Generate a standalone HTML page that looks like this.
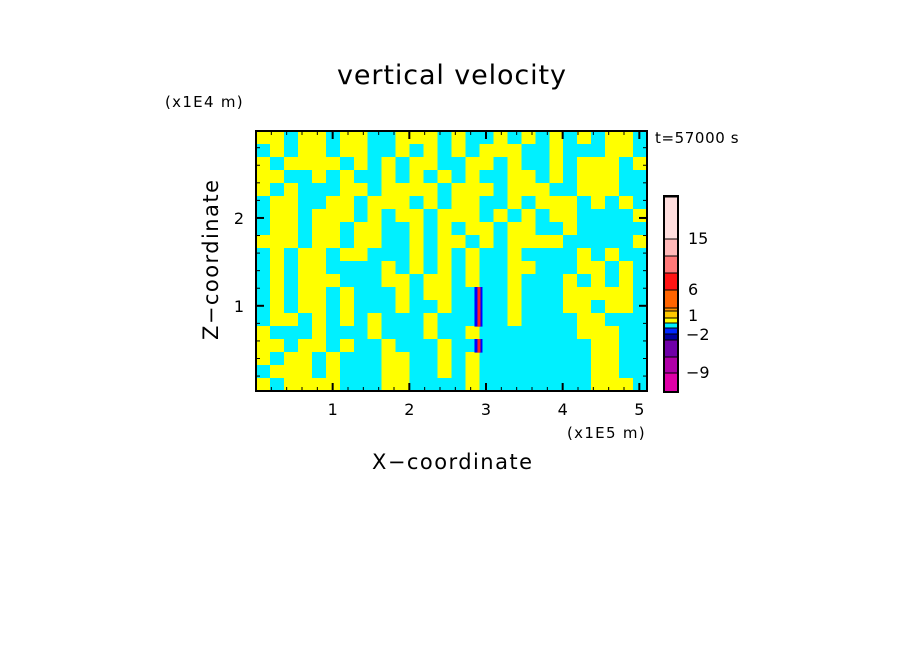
<!DOCTYPE html>
<html><head><meta charset="utf-8"><style>
body{margin:0;background:#fff;}
svg{display:block;font-family:"DejaVu Sans","Liberation Sans",sans-serif;}
</style></head><body>
<svg id="chart" width="904" height="654" viewBox="0 0 904 654" xmlns="http://www.w3.org/2000/svg">
<rect width="904" height="654" fill="#fff"/>
<text x="452" y="84" font-size="27" text-anchor="middle" letter-spacing="1" textLength="230">vertical velocity</text>
<text x="165" y="107" font-size="15" letter-spacing="1.3">(x1E4 m)</text>
<text x="655" y="143" font-size="15" letter-spacing="0.6">t=57000 s</text>
<text x="567" y="438" font-size="15" letter-spacing="1.3">(x1E5 m)</text>
<text x="452" y="469" font-size="21" text-anchor="middle" textLength="160">X−coordinate</text>
<text transform="translate(218,260) rotate(-90)" font-size="21" text-anchor="middle" textLength="160">Z−coordinate</text>
<g id="field"></g>
<g id="cores"></g>
<g id="axes"></g>
<g id="cbar"></g>
</svg>
<script>
const xTicks=[1,2,3,4,5];
const yTicks=[1,2];
const xDomain=[0,5.1];
const yDomain=[0.03,2.99];
const fieldRows=[
"YYCYYCYYCCYYYCYCCYCYCYCYCYYC",
"CYCYYCYYCCYCYCYCYYYCCYCCCYYC",
"YCYYYYCYCYCYYCCYYCYCCYCYYYCY",
"YYCCYCYCCYCYCYCYCCYYCYCYYYCC",
"YCYCCCYYCYYYYCYYYCYYYCCYYYCC",
"CYYCCYYCYYYCYCYYCCYCYYYCYCYC",
"CYYCYYYCYCYYCYYYCYCYCYYCCCCY",
"CYYCYYCYYCCYCYCYYCYYCCYCCCCC",
"YYYCYYCYYCCYCYYCYCYYYYCCCCCY",
"CYCYYCYYCCCYCYCYCCYCCCCYCYCC",
"CYCYYCCCCYCYCYCYCCYYCCCYYCYC",
"CYCYYYCCCYYCYYCYCCYCCCYCYCYC",
"CYCYYCYCCCYCYYCRCCYCCCYYYYYC",
"CYCYYCYCCCYCCYCRCCYCCCYYCYYC",
"CYYCYCYCYCCCYCCRCCYCCCCYYCCC",
"YCCCYCCCYCCCYCCYCCCCCCCYYYCC",
"YYCYYCYCCYCCCYCRCCCCCCCCYYCC",
"YCYYCYCCCYYCCYCYCCCCCCCCYYCC",
"CYYYCYCCCYYCCYCYCCCCCCCCYYCC",
"YCYYYYCCCYYCCCCYCCCCCCCCYYYC"];
const cbarLabels=["15","6","1","−2","−9"];

const NS="http://www.w3.org/2000/svg";
const L=256,R=647,T=131,B=391;
const sx=v=>L+(v-xDomain[0])/(xDomain[1]-xDomain[0])*(R-L);
const sy=v=>B-(v-yDomain[0])/(yDomain[1]-yDomain[0])*(B-T);
function mk(tag,attrs,parent){const e=document.createElementNS(NS,tag);for(const k in attrs)e.setAttribute(k,attrs[k]);parent.appendChild(e);return e;}
const field=document.getElementById('field');
const cores=document.getElementById('cores');
const nr=fieldRows.length,nc=fieldRows[0].length;
const cw=(R-L)/nc,ch=(B-T)/nr;
fieldRows.forEach((row,r)=>{for(let c=0;c<nc;c++){const k=row[c];
 const cell=mk('rect',{x:L+c*cw,y:T+r*ch,width:cw+0.6,height:ch+0.6,fill:k==='Y'?'#ffff00':'#00f0ff','shape-rendering':'crispEdges'},field);
 
 
 if(k==='R'){const s=mk('rect',{x:L+c*cw+9,y:T+r*ch,width:8,height:ch+0.6,fill:'#0000ff'},cores);
  
  
  const s2=mk('rect',{x:L+c*cw+12,y:T+r*ch,width:3,height:ch+0.6,fill:'#ff2020'},cores);
  
  }
}});
const ax=document.getElementById('axes');
const frame=mk('rect',{x:L,y:T,width:R-L,height:B-T,fill:'none',stroke:'#000','stroke-width':2},ax);


for(let v=0.2;v<xDomain[1];v+=0.2){const x=sx(v);const major=Math.abs(v-Math.round(v))<0.01;const len=major?8:4;
 mk('line',{x1:x,y1:B,x2:x,y2:B-len,stroke:'#000','stroke-width':major?2:1},ax);
 mk('line',{x1:x,y1:T,x2:x,y2:T+len,stroke:'#000','stroke-width':major?2:1},ax);}
for(let v=0.2;v<yDomain[1];v+=0.2){const y=sy(v);const major=Math.abs(v-Math.round(v))<0.01;const len=major?8:4;
 mk('line',{x1:L,y1:y,x2:L+len,y2:y,stroke:'#000','stroke-width':major?2:1},ax);
 mk('line',{x1:R,y1:y,x2:R-len,y2:y,stroke:'#000','stroke-width':major?2:1},ax);}
xTicks.forEach(v=>{const t=mk('text',{x:sx(v),y:415,'font-size':16,'text-anchor':'middle'},ax);t.textContent=v;
 
 });
yTicks.forEach(v=>{const t=mk('text',{x:244,y:sy(v)+6,'font-size':16,'text-anchor':'end'},ax);t.textContent=v;
 
 });
const cb=document.getElementById('cbar');
const cbColors=['#e000a8','#b000a8','#7000a8','#0000a0','#0028ff','#00f0ff','#ffff00','#ffc800','#ff9600','#ff6400','#ff1414','#ff7878','#ffb8b8','#ffdede'];
const cbH=[19,16,17,6,6,5,5,7,3,18,17,17,17,42];
let y=392;
cbColors.forEach((col,i)=>{y-=cbH[i];const s=mk('rect',{x:664,y:y,width:14,height:cbH[i],fill:col,stroke:'#000','stroke-width':1},cb);
 
 });
const cf=mk('rect',{x:664,y:196,width:14,height:196,fill:'none',stroke:'#000','stroke-width':2},cb);


const labY=[244,295,321,340,378];
cbarLabels.forEach((lab,i)=>{const t=mk('text',{x:lab[0]==='−'?686:688,y:labY[i],'font-size':16},cb);t.textContent=lab;
 
 });
</script>
</body></html>
